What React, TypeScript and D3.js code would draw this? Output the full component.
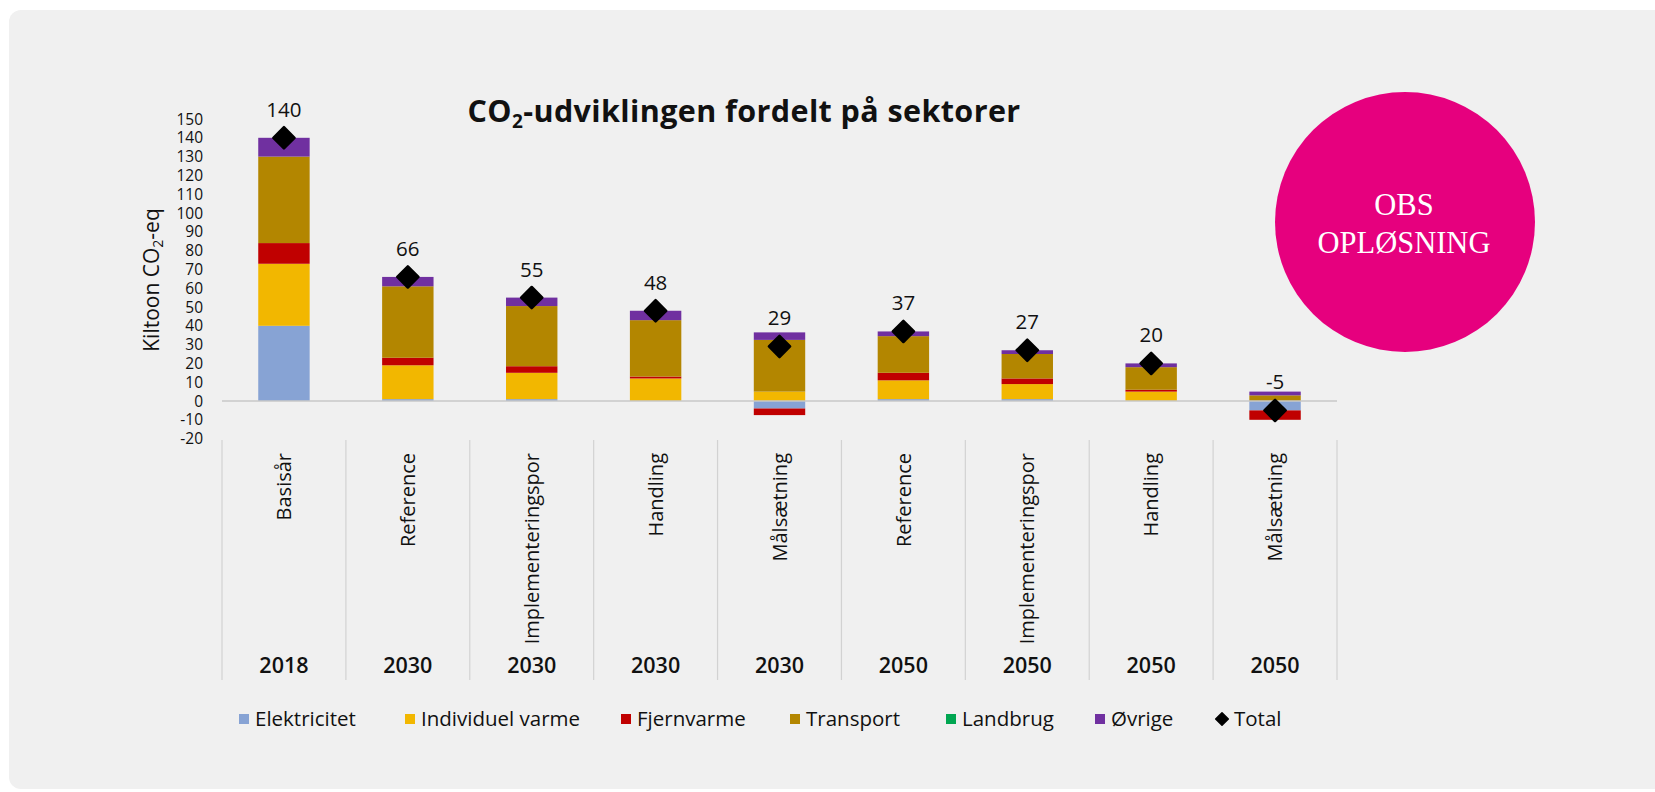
import React from "react";
import * as d3 from "d3";

const categories = ["Basisår", "Reference", "Implementeringspor", "Handling", "Målsætning", "Reference", "Implementeringspor", "Handling", "Målsætning"];
const years = ["2018", "2030", "2030", "2030", "2030", "2050", "2050", "2050", "2050"];

const elektricitet = [40, 1, 1, 0, -4, 1, 1, 0, -5];
const individuelVarme = [33, 18, 14, 12, 5, 10, 8, 5, 0];
const fjernvarme = [11, 4, 3.5, 1, -3.5, 4, 3, 1, -5];
const transport = [46, 38, 32, 30, 27.5, 19.5, 13, 12, 3];
const landbrug = [0, 0, 0, 0, 0, 0, 0, 0, 0];
const ovrige = [10, 5, 4.5, 5, 4, 2.5, 2, 2, 2];
const total = [140, 66, 55, 48, 29, 37, 27, 20, -5];

const seriesNames = ["Elektricitet", "Individuel varme", "Fjernvarme", "Transport", "Landbrug", "Øvrige"];
const seriesColors = ["#87a3d4", "#f2b700", "#c00000", "#b38600", "#00a651", "#7030a0"];
const yTickValues = [150, 140, 130, 120, 110, 100, 90, 80, 70, 60, 50, 40, 30, 20, 10, 0, -10, -20];

const FONT = "'Open Sans', Lato, sans-serif";

export default function App() {
  const W = 1655;
  const H = 792;
  const seriesData = [elektricitet, individuelVarme, fjernvarme, transport, landbrug, ovrige];
  const table = categories.map((c, i) => {
    const row: any = { idx: i };
    seriesNames.forEach((n, k) => (row[n] = seriesData[k][i]));
    return row;
  });
  const stacked = d3.stack<any>().keys(seriesNames).offset(d3.stackOffsetDiverging)(table);

  const x = d3.scaleBand<number>().domain(d3.range(categories.length)).range([222, 1337]).padding(0);
  const y = d3.scaleLinear().domain([-20, 150]).range([438.6, 119]);
  const bw = x.bandwidth();
  const barW = bw * 0.415;
  const diamond = d3.symbol().type(d3.symbolSquare).size(225)() as string;
  const legendDiamond = d3.symbol().type(d3.symbolSquare).size(80)() as string;

  const legendX = [239, 405, 621, 790, 946, 1095];
  const legendY = 719;

  return (
    <div style={{ position: "absolute", left: 0, top: 0, width: W, height: H, background: "#fff" }}>
      <svg width={W} height={H} style={{ display: "block" }}>
        <rect x={9} y={10} width={1700} height={779} rx={12} fill="#f0f0f0" />

        {/* title */}
        <text x={744} y={122} textAnchor="middle" fontFamily={FONT} fontWeight={700} fontSize={30.5} letterSpacing={0.4} fill="#111">
          CO<tspan fontSize={19} dy={6}>2</tspan>
          <tspan dy={-6}>-udviklingen fordelt på sektorer</tspan>
        </text>

        {/* y axis title */}
        <text transform="translate(159,280) rotate(-90)" textAnchor="middle" fontFamily={FONT} fontSize={21} fill="#111">
          Kiltoon CO<tspan fontSize={14} dy={4}>2</tspan>
          <tspan dy={-4}>-eq</tspan>
        </text>

        {/* y ticks */}
        {yTickValues.map((v) => (
          <text key={v} x={203} y={y(v)} dy="0.36em" textAnchor="end" fontFamily={FONT} fontSize={15.5} fill="#111">
            {v}
          </text>
        ))}

        {/* bars */}
        {stacked.map((s, k) => (
          <g key={s.key} fill={seriesColors[k]}>
            {s.map((d, i) => {
              const y0 = y(d[0]);
              const y1 = y(d[1]);
              const h = Math.abs(y0 - y1);
              if (h < 0.01) return null;
              return <rect key={i} x={(x(i) as number) + bw / 2 - barW / 2} y={Math.min(y0, y1)} width={barW} height={h} />;
            })}
          </g>
        ))}

        {/* zero line */}
        <line x1={222} x2={1337} y1={y(0)} y2={y(0)} stroke="#c9c9c9" strokeWidth={1.5} />

        {/* total markers */}
        {total.map((t, i) => (
          <path
            key={i}
            d={diamond}
            transform={`translate(${(x(i) as number) + bw / 2},${y(t)}) rotate(45)`}
            fill="#000"
            stroke="#000"
            strokeWidth={2.5}
            strokeLinejoin="round"
          />
        ))}
        {total.map((t, i) => (
          <text key={i} x={(x(i) as number) + bw / 2} y={y(t) - 21} textAnchor="middle" fontFamily={FONT} fontSize={20.5} fill="#111">
            {t}
          </text>
        ))}

        {/* category separators */}
        {d3.range(categories.length + 1).map((i) => {
          const xx = i < categories.length ? (x(i) as number) : 1337;
          return <line key={i} x1={xx} x2={xx} y1={440} y2={680} stroke="#d2d2d2" strokeWidth={1.2} />;
        })}

        {/* category labels */}
        {categories.map((c, i) => (
          <text
            key={i}
            transform={`translate(${(x(i) as number) + bw / 2},453) rotate(-90)`}
            dy="0.36em"
            textAnchor="end"
            fontFamily={FONT}
            fontSize={20}
            fill="#111"
          >
            {c}
          </text>
        ))}
        {years.map((yr, i) => (
          <text key={i} x={(x(i) as number) + bw / 2} y={673} textAnchor="middle" fontFamily={FONT} fontWeight={600} fontSize={21.5} fill="#111">
            {yr}
          </text>
        ))}

        {/* legend */}
        {seriesNames.map((n, k) => (
          <g key={n}>
            <rect x={legendX[k]} y={legendY - 5} width={10} height={10} fill={seriesColors[k]} />
            <text x={legendX[k] + 16} y={legendY} dy="0.36em" fontFamily={FONT} fontSize={20.5} fill="#111">
              {n}
            </text>
          </g>
        ))}
        <path d={legendDiamond} transform={`translate(1222,${legendY}) rotate(45)`} fill="#000" stroke="#000" strokeWidth={1.5} strokeLinejoin="round" />
        <text x={1234} y={legendY} dy="0.36em" fontFamily={FONT} fontSize={20.5} fill="#111">
          Total
        </text>

        {/* OBS badge */}
        <circle cx={1405} cy={222} r={130} fill="#e6007e" />
        <text x={1404} y={215} textAnchor="middle" fontFamily="'Liberation Serif', 'DejaVu Serif', serif" fontSize={30.5} fill="#fff">
          OBS
        </text>
        <text x={1404} y={253} textAnchor="middle" fontFamily="'Liberation Serif', 'DejaVu Serif', serif" fontSize={30.5} fill="#fff">
          OPLØSNING
        </text>
      </svg>
    </div>
  );
}
